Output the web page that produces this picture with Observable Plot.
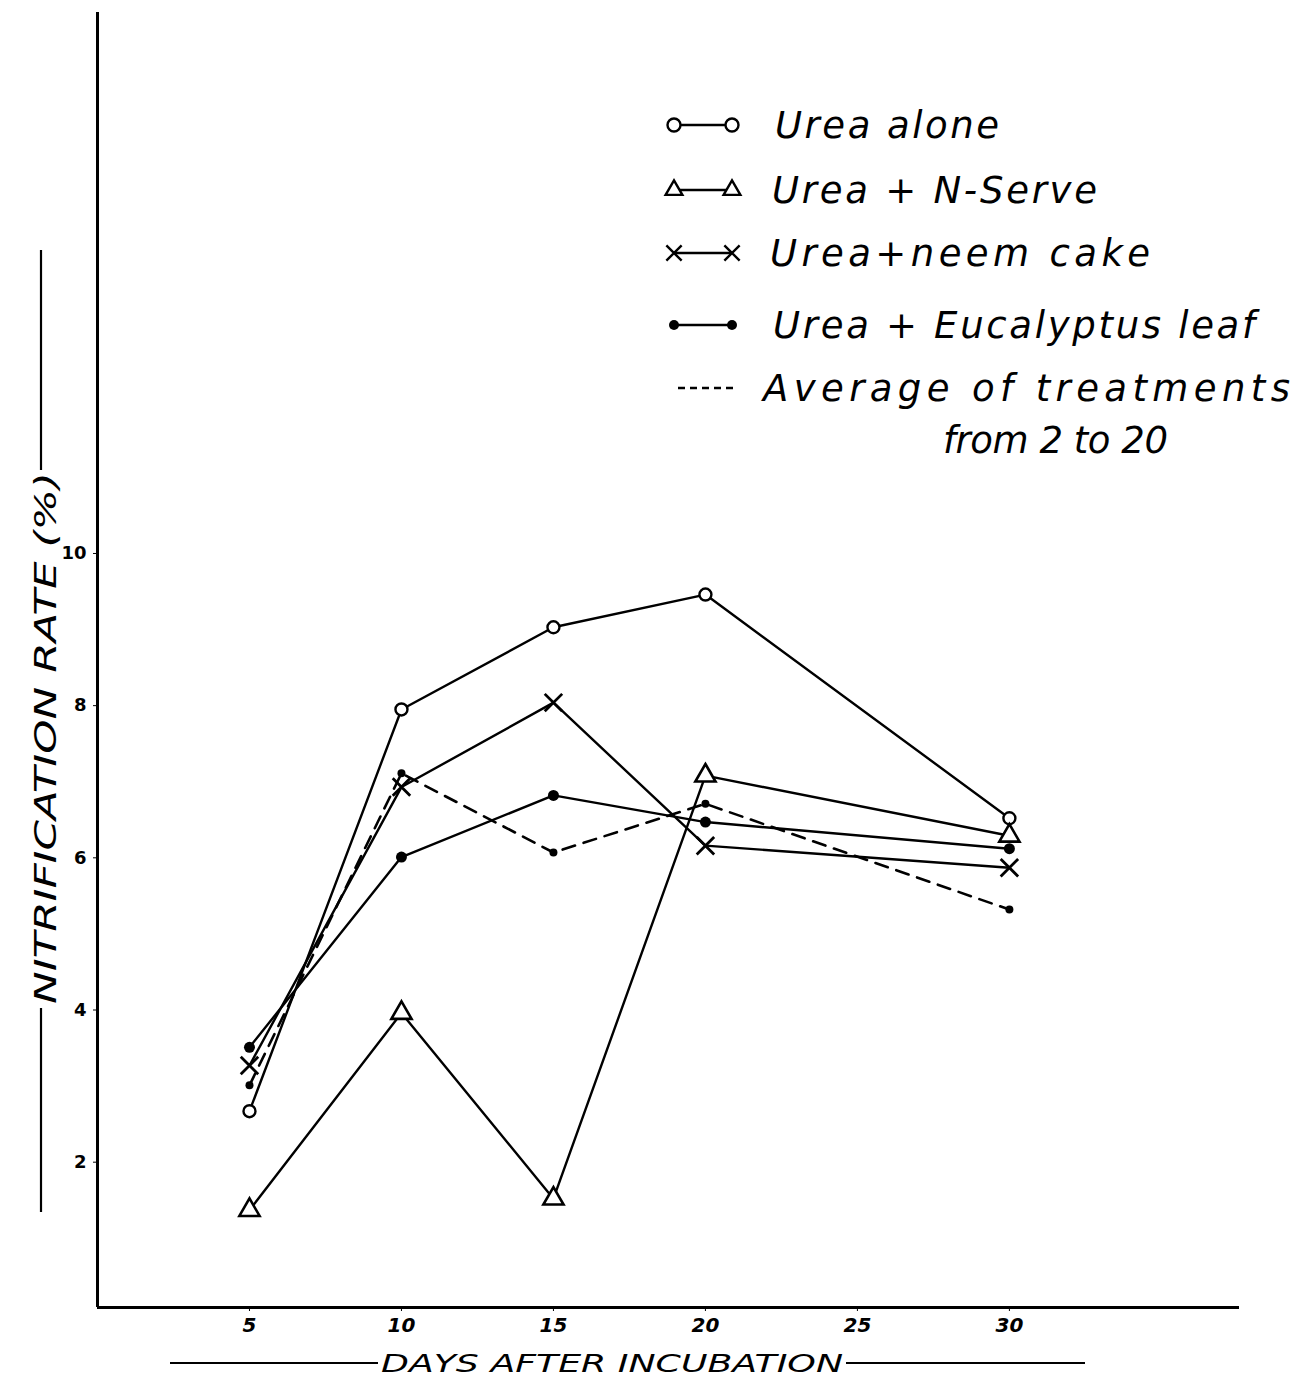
<!DOCTYPE html>
<html>
<head>
<meta charset="utf-8">
<script src="https://cdn.jsdelivr.net/npm/d3@7"></script>
<script src="https://cdn.jsdelivr.net/npm/@observablehq/plot@0.6"></script>
<style>
  html, body { margin: 0; padding: 0; background: #fff; }
  #chart svg { display: block; }
</style>
</head>
<body>
<div id="chart"></div>
<script>
// Nitrification rate (%) by days after incubation, for each treatment
const days = [5, 10, 15, 20, 30];
const ureaAlone = [2.67, 7.95, 9.03, 9.46, 6.52];
const ureaNServe = [1.37, 3.96, 1.52, 7.08, 6.29];
const ureaNeemCake = [3.27, 6.93, 8.04, 6.16, 5.87];
const ureaEucalyptus = [3.51, 6.01, 6.82, 6.47, 6.12];
const averageOfTreatments = [3.01, 7.11, 6.07, 6.71, 5.32];

const xTicks = [5, 10, 15, 20, 25, 30];
const yTicks = [2, 4, 6, 8, 10];

const legendLabels = [
  "Urea alone",
  "Urea + N-Serve",
  "Urea+neem cake",
  "Urea + Eucalyptus leaf",
  "Average of treatments",
  "from 2 to 20"
];
const yLabel = "NITRIFICATION RATE (%)";
const xLabel = "DAYS AFTER INCUBATION";

const toRows = (vals) => days.map((d, i) => ({day: d, rate: vals[i]}));
const alone = toRows(ureaAlone);
const nserve = toRows(ureaNServe);
const neem = toRows(ureaNeemCake);
const euc = toRows(ureaEucalyptus);
const avg = toRows(averageOfTreatments);

const W = 1310, H = 1377;
const font = "'DejaVu Sans', sans-serif";
const ink = "#000";

const chart = Plot.plot({
  width: W,
  height: H,
  marginLeft: 97,
  marginRight: 71,
  marginTop: 12,
  marginBottom: 70,
  style: {background: "#fff", fontFamily: font},
  x: {domain: [0, 37.57], ticks: xTicks, label: null},
  y: {domain: [0.09, 17.11], ticks: yTicks, label: null},
  marks: [
    Plot.axisX({ticks: xTicks, tickSize: 4, tickPadding: 6, fontSize: 20, fontStyle: "italic", fontWeight: "bold", label: null, stroke: ink, fill: ink}),
    Plot.axisY({ticks: yTicks, tickSize: 4, tickPadding: 7, fontSize: 18, fontWeight: "bold", label: null, stroke: ink, fill: ink}),
    Plot.ruleX([0], {stroke: ink, strokeWidth: 3}),
    Plot.ruleY([0.09], {stroke: ink, strokeWidth: 3}),

    // dashed average line
    Plot.line(avg, {x: "day", y: "rate", stroke: ink, strokeWidth: 2.6, strokeDasharray: "13,9"}),
    Plot.dot(avg, {x: "day", y: "rate", r: 4, fill: ink, stroke: "none"}),

    Plot.line(alone, {x: "day", y: "rate", stroke: ink, strokeWidth: 2.4}),
    Plot.line(nserve, {x: "day", y: "rate", stroke: ink, strokeWidth: 2.4}),
    Plot.line(neem, {x: "day", y: "rate", stroke: ink, strokeWidth: 2.4}),
    Plot.line(euc, {x: "day", y: "rate", stroke: ink, strokeWidth: 2.4}),

    Plot.dot(alone, {x: "day", y: "rate", r: 6, symbol: "circle", fill: "#fff", stroke: ink, strokeWidth: 2.4}),
    Plot.dot(nserve, {x: "day", y: "rate", r: 7.5, symbol: "triangle", fill: "#fff", stroke: ink, strokeWidth: 2.6}),
    Plot.dot(neem, {x: "day", y: "rate", r: 8, symbol: "times", stroke: ink, strokeWidth: 2.8}),
    Plot.dot(euc, {x: "day", y: "rate", r: 5.5, fill: ink, stroke: "none"})
  ]
});

document.getElementById("chart").appendChild(chart);

// Hand-lettered annotations: axis titles with their flanking rules, and the key
const svg = d3.select(chart);
const g = svg.append("g").attr("font-family", font).attr("fill", ink).attr("text-anchor", "start");

// y-axis title
g.append("text")
  .attr("transform", "translate(56,738) rotate(-90)")
  .attr("text-anchor", "middle")
  .attr("font-size", 30)
  .attr("font-style", "italic")
  .attr("textLength", 532)
  .attr("lengthAdjust", "spacingAndGlyphs")
  .text(yLabel);
g.append("line").attr("x1", 41).attr("x2", 41).attr("y1", 250).attr("y2", 470).attr("stroke", ink).attr("stroke-width", 2.2);
g.append("line").attr("x1", 41).attr("x2", 41).attr("y1", 1008).attr("y2", 1212).attr("stroke", ink).attr("stroke-width", 2.2);

// x-axis title
g.append("text")
  .attr("x", 612).attr("y", 1372)
  .attr("text-anchor", "middle")
  .attr("font-size", 25)
  .attr("font-style", "italic")
  .attr("textLength", 462)
  .attr("lengthAdjust", "spacingAndGlyphs")
  .text(xLabel);
g.append("line").attr("x1", 170).attr("x2", 378).attr("y1", 1363).attr("y2", 1363).attr("stroke", ink).attr("stroke-width", 2.2);
g.append("line").attr("x1", 846).attr("x2", 1085).attr("y1", 1363).attr("y2", 1363).attr("stroke", ink).attr("stroke-width", 2.2);

// key
const keyRows = [
  {label: legendLabels[0], kind: "circle", y: 125, x: 775, len: 224},
  {label: legendLabels[1], kind: "triangle", y: 190, x: 772, len: 325},
  {label: legendLabels[2], kind: "times", y: 253, x: 770, len: 380},
  {label: legendLabels[3], kind: "dot", y: 325, x: 773, len: 482},
  {label: legendLabels[4], kind: "dash", y: 388, x: 763, len: 527},
  {label: legendLabels[5], kind: "none", y: 440, x: 943, len: 225}
];
const sym = (type, r) => d3.symbol(type, r * r * Math.PI)();
for (const row of keyRows) {
  const cy = row.y;
  if (row.kind === "dash") {
    g.append("line").attr("x1", 678).attr("x2", 738).attr("y1", cy).attr("y2", cy)
      .attr("stroke", ink).attr("stroke-width", 2.4).attr("stroke-dasharray", "7,5");
  } else if (row.kind !== "none") {
    g.append("line").attr("x1", 674).attr("x2", 732).attr("y1", cy).attr("y2", cy)
      .attr("stroke", ink).attr("stroke-width", 2.4);
    for (const x of [674, 732]) {
      if (row.kind === "circle") {
        g.append("circle").attr("cx", x).attr("cy", cy).attr("r", 6.5).attr("fill", "#fff").attr("stroke", ink).attr("stroke-width", 2.4);
      } else if (row.kind === "triangle") {
        g.append("path").attr("d", sym(d3.symbolTriangle2, 8)).attr("transform", `translate(${x},${cy})`)
          .attr("fill", "#fff").attr("stroke", ink).attr("stroke-width", 2.4);
      } else if (row.kind === "times") {
        g.append("path").attr("d", sym(d3.symbolTimes, 7)).attr("transform", `translate(${x},${cy})`)
          .attr("fill", "none").attr("stroke", ink).attr("stroke-width", 2.4);
      } else if (row.kind === "dot") {
        g.append("circle").attr("cx", x).attr("cy", cy).attr("r", 5).attr("fill", ink);
      }
    }
  }
  g.append("text")
    .attr("x", row.x).attr("y", cy + 13)
    .attr("text-anchor", "start")
    .attr("font-size", 37)
    .attr("font-style", "italic")
    .attr("textLength", row.len)
    .attr("lengthAdjust", "spacing")
    .text(row.label);
}
</script>
</body>
</html>
